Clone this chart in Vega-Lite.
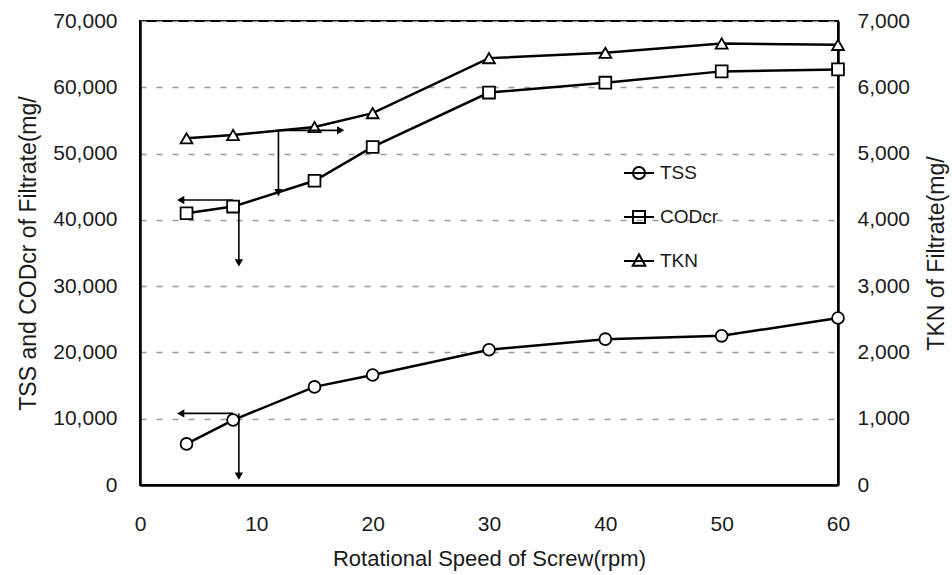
{
  "$schema": "https://vega.github.io/schema/vega-lite/v6.json",
  "width": 698,
  "height": 464,
  "autosize": {"type": "none"},
  "padding": {"left": 140, "top": 21, "right": 114, "bottom": 90},
  "background": "white",
  "config": {
    "view": {"stroke": "black", "strokeWidth": 2},
    "font": "Liberation Sans",
    "axis": {
      "labelFont": "Liberation Sans",
      "titleFont": "Liberation Sans",
      "labelColor": "#1a1a1a",
      "titleColor": "#1a1a1a",
      "titleFontWeight": "normal",
      "domainColor": "black",
      "domainWidth": 2.5
    },
    "legend": {"labelFont": "Liberation Sans"}
  },
  "datasets": {
    "series": [
      {"rpm": 4, "series": "TSS", "value": 6200},
      {"rpm": 8, "series": "TSS", "value": 9800},
      {"rpm": 15, "series": "TSS", "value": 14800},
      {"rpm": 20, "series": "TSS", "value": 16600},
      {"rpm": 30, "series": "TSS", "value": 20400},
      {"rpm": 40, "series": "TSS", "value": 22000},
      {"rpm": 50, "series": "TSS", "value": 22500},
      {"rpm": 60, "series": "TSS", "value": 25200},
      {"rpm": 4, "series": "COD", "value": 41000},
      {"rpm": 8, "series": "COD", "value": 42000},
      {"rpm": 15, "series": "COD", "value": 45900},
      {"rpm": 20, "series": "COD", "value": 51000},
      {"rpm": 30, "series": "COD", "value": 59200},
      {"rpm": 40, "series": "COD", "value": 60700},
      {"rpm": 50, "series": "COD", "value": 62400},
      {"rpm": 60, "series": "COD", "value": 62700},
      {"rpm": 4, "series": "TKN", "value": 5230},
      {"rpm": 8, "series": "TKN", "value": 5280},
      {"rpm": 15, "series": "TKN", "value": 5400},
      {"rpm": 20, "series": "TKN", "value": 5610},
      {"rpm": 30, "series": "TKN", "value": 6440},
      {"rpm": 40, "series": "TKN", "value": 6520},
      {"rpm": 50, "series": "TKN", "value": 6660},
      {"rpm": 60, "series": "TKN", "value": 6640}
    ],
    "arrows": [
      {"x1": 11.9, "x2": 17.2, "y1": 53500, "y2": 53500},
      {"x1": 11.9, "x2": 11.9, "y1": 53500, "y2": 44100},
      {"x1": 8, "x2": 3.5, "y1": 43000, "y2": 43000},
      {"x1": 8.5, "x2": 8.5, "y1": 43000, "y2": 33500},
      {"x1": 8, "x2": 3.5, "y1": 10800, "y2": 10800},
      {"x1": 8.5, "x2": 8.5, "y1": 10800, "y2": 1400}
    ],
    "heads": [
      {"x": 17.25, "y": 53500, "dir": "right"},
      {"x": 11.9, "y": 44100, "dir": "down"},
      {"x": 3.5, "y": 43000, "dir": "left"},
      {"x": 8.5, "y": 33500, "dir": "down"},
      {"x": 3.5, "y": 10800, "dir": "left"},
      {"x": 8.5, "y": 1350, "dir": "down"}
    ]
  },
  "resolve": {"scale": {"y": "independent", "shape": "independent"}},
  "layer": [
    {
      "data": {"name": "series"},
      "transform": [{"filter": "datum.series !== 'TKN'"}],
      "mark": {"type": "line", "color": "black", "strokeWidth": 2.5},
      "encoding": {
        "x": {
          "field": "rpm", "type": "quantitative",
          "scale": {"domain": [0, 60], "nice": false},
          "axis": {
            "title": "Rotational Speed of Screw(rpm)",
            "values": [0, 10, 20, 30, 40, 50, 60],
            "grid": false,
            "labelFontSize": 21,
            "titleFontSize": 22,
            "ticks": false,
            "labelPadding": 28,
            "titlePadding": 14,
            "labelFlush": false,
            "labelOverlap": false
          }
        },
        "y": {
          "field": "value", "type": "quantitative",
          "scale": {"domain": [0, 70000], "nice": false},
          "axis": {
            "orient": "left",
            "title": "TSS and CODcr of Filtrate(mg/",
            "values": [0, 10000, 20000, 30000, 40000, 50000, 60000, 70000],
            "format": ",d",
            "ticks": false,
            "labelPadding": 23,
            "labelFontSize": 21,
            "titleFontSize": 23,
            "titlePadding": 12,
            "labelOverlap": false,
            "grid": true,
            "gridColor": "#999999",
            "gridDash": [6, 10],
            "gridWidth": 1.5
          }
        },
        "detail": {"field": "series"}
      }
    },
    {
      "data": {"name": "series"},
      "transform": [{"filter": "datum.series !== 'TKN'"}],
      "mark": {"type": "point", "filled": true, "fill": "white", "stroke": "black", "strokeWidth": 1.8, "size": 140, "opacity": 1},
      "encoding": {
        "x": {"field": "rpm", "type": "quantitative", "scale": {"domain": [0, 60], "nice": false}},
        "y": {"field": "value", "type": "quantitative", "scale": {"domain": [0, 70000], "nice": false}, "axis": null},
        "shape": {"field": "series", "type": "nominal", "scale": {"domain": ["TSS", "COD", "TKN"], "range": ["circle", "square", "triangle-up"]}, "legend": null}
      }
    },
    {
      "data": {"name": "series"},
      "transform": [{"filter": "datum.series === 'TKN'"}],
      "mark": {"type": "line", "color": "black", "strokeWidth": 2.5},
      "encoding": {
        "x": {"field": "rpm", "type": "quantitative", "scale": {"domain": [0, 60], "nice": false}},
        "y": {
          "field": "value", "type": "quantitative",
          "scale": {"domain": [0, 7000], "nice": false},
          "axis": {
            "orient": "right",
            "title": "TKN of Filtrate(mg/",
            "values": [0, 1000, 2000, 3000, 4000, 5000, 6000, 7000],
            "format": ",d",
            "ticks": false,
            "grid": false,
            "labelPadding": 19,
            "labelFontSize": 21,
            "titleFontSize": 23,
            "titlePadding": 16,
            "titleAngle": 270,
            "titleBaseline": "top",
            "labelOverlap": false
          }
        }
      }
    },
    {
      "data": {"name": "series"},
      "transform": [{"filter": "datum.series === 'TKN'"}],
      "mark": {"type": "point", "filled": true, "fill": "white", "stroke": "black", "strokeWidth": 1.8, "size": 140, "opacity": 1},
      "encoding": {
        "x": {"field": "rpm", "type": "quantitative", "scale": {"domain": [0, 60], "nice": false}},
        "y": {"field": "value", "type": "quantitative", "scale": {"domain": [0, 7000], "nice": false}, "axis": null},
        "shape": {"field": "series", "type": "nominal", "scale": {"domain": ["TSS", "COD", "TKN"], "range": ["circle", "square", "triangle-up"]}, "legend": null}
      }
    },
    {
      "data": {"name": "arrows"},
      "mark": {"type": "rule", "color": "black", "strokeWidth": 1.6},
      "encoding": {
        "x": {"field": "x1", "type": "quantitative", "scale": {"domain": [0, 60], "nice": false}},
        "x2": {"field": "x2"},
        "y": {"field": "y1", "type": "quantitative", "scale": {"domain": [0, 70000], "nice": false}, "axis": null},
        "y2": {"field": "y2"}
      }
    },
    {
      "data": {"name": "heads"},
      "mark": {"type": "point", "filled": true, "color": "black", "size": 70, "opacity": 1},
      "encoding": {
        "x": {"field": "x", "type": "quantitative", "scale": {"domain": [0, 60], "nice": false}},
        "y": {"field": "y", "type": "quantitative", "scale": {"domain": [0, 70000], "nice": false}, "axis": null},
        "shape": {"field": "dir", "type": "nominal", "scale": {"domain": ["left", "right", "down"], "range": ["triangle-left", "triangle-right", "triangle-down"]}, "legend": null}
      }
    },
    {
      "data": {"name": "series"},
      "transform": [{"filter": "false"}],
      "mark": {"type": "point", "filled": false, "stroke": "black", "strokeWidth": 2},
      "encoding": {
        "x": {"field": "rpm", "type": "quantitative", "scale": {"domain": [0, 60], "nice": false}},
        "y": {"field": "value", "type": "quantitative", "axis": null},
        "shape": {
          "field": "series", "type": "nominal",
          "scale": {
            "domain": ["TSS", "COD", "TKN"],
            "range": [
              "M-1,0H1M0.4,0A0.4,0.4,0,1,1,-0.4,0A0.4,0.4,0,1,1,0.4,0Z",
              "M-1,0H1M-0.4,-0.4H0.4V0.4H-0.4Z",
              "M-1,0H1M0,-0.45L0.42,0.32H-0.42Z"
            ]
          },
          "legend": {
            "orient": "none",
            "legendX": 483,
            "legendY": 136,
            "title": null,
            "padding": 0,
            "symbolSize": 900,
            "symbolStrokeWidth": 2,
            "symbolStrokeColor": "black",
            "symbolFillColor": "transparent",
            "symbolOpacity": 1,
            "labelFontSize": 19,
            "labelColor": "#1a1a1a",
            "labelOffset": 5,
            "rowPadding": 18,
            "labelExpr": "datum.label === 'COD' ? 'CODcr' : datum.label"
          }
        }
      }
    }
  ]
}
